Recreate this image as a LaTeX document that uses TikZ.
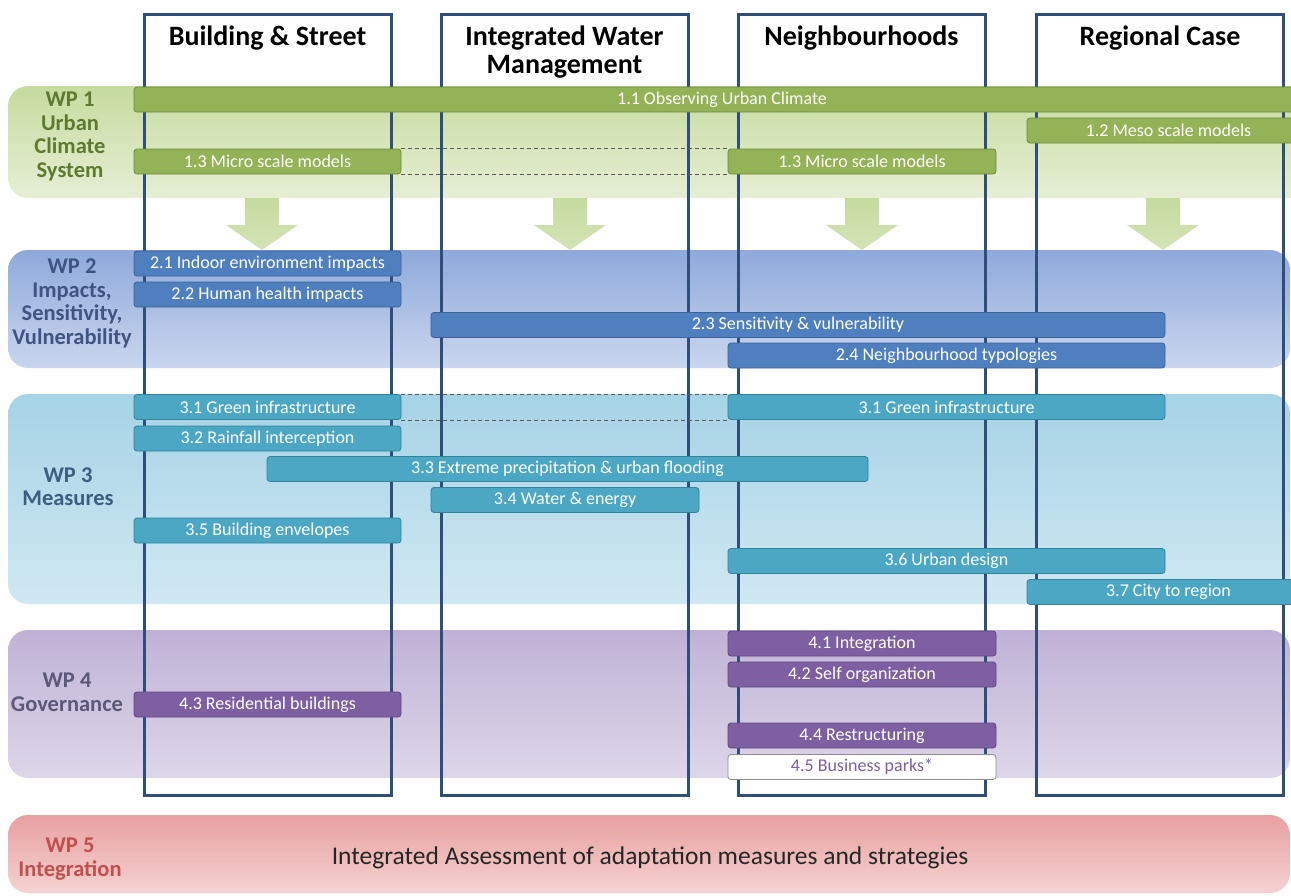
\documentclass[tikz,border=0pt]{standalone}
\usepackage{fontspec}
\setmainfont{Carlito}
\usepackage{tikz}

\definecolor{colline}{HTML}{2F4F7A}
\definecolor{wpagreen}{HTML}{93B356}
\definecolor{wpagreenb}{HTML}{6E8B3D}
\definecolor{wpablue}{HTML}{4F7FBE}
\definecolor{wpablueb}{HTML}{3A6399}
\definecolor{wpacyan}{HTML}{4BA7C3}
\definecolor{wpacyanb}{HTML}{31849B}
\definecolor{wpapurple}{HTML}{7E5FA2}
\definecolor{wpapurpleb}{HTML}{5F4880}
\definecolor{bandgreen}{HTML}{C6DB9E}
\definecolor{bandgreenl}{HTML}{E6EFD5}
\definecolor{bandblue}{HTML}{8EA9DB}
\definecolor{bandbluel}{HTML}{CAD6EE}
\definecolor{bandcyan}{HTML}{A6D3E6}
\definecolor{bandcyanl}{HTML}{D0E8F2}
\definecolor{bandpurple}{HTML}{C0B2D6}
\definecolor{bandpurplel}{HTML}{DDD6E9}
\definecolor{bandred}{HTML}{E8A0A0}
\definecolor{bandredl}{HTML}{F6D2D2}
\definecolor{labgreen}{HTML}{5E7A30}
\definecolor{labblue}{HTML}{3F5480}
\definecolor{labcyan}{HTML}{3A5F80}
\definecolor{labpurple}{HTML}{5B5878}
\definecolor{labred}{HTML}{C0504D}

\begin{document}
\begin{tikzpicture}[x=1pt, y=-1pt,
	colbox/.style = {draw=colline, line width=3pt, minimum width=247, minimum height=781, inner sep=0},
	colhead/.style = {font=\fontsize{28}{28}\selectfont\bfseries, align=center},
	wpband/.style = {rounded corners=20pt},
	wplabel/.style = {font=\fontsize{22.5}{23.5}\selectfont\bfseries, align=center},
	task/.style = {draw, rounded corners=3pt, line width=0.8pt, minimum height=25, inner sep=0, text=white, font=\fontsize{18}{19}\selectfont},
	link/.style = {draw=black!65, line width=0.7pt, dash pattern=on 4pt off 3pt}]
	\useasboundingbox (0,0) rectangle (1291,895);

	% work package bands
	\shade[wpband, top color=bandgreen, bottom color=bandgreenl] (8,86) rectangle (1310,198);
	\shade[wpband, top color=bandblue, bottom color=bandbluel] (8,250) rectangle (1290,368);
	\shade[wpband, top color=bandcyan, bottom color=bandcyanl] (8,394) rectangle (1290,604);
	\shade[wpband, top color=bandpurple, bottom color=bandpurplel] (8,630) rectangle (1290,778);
	\shade[wpband, top color=bandred, bottom color=bandredl] (8,815) rectangle (1290,893);

	% arrows from WP 1 to WP 2
	\shade[top color=bandgreen, bottom color=bandgreen!75!white] (245,198) -- (279,198) -- (279,225) -- (298,225) -- (262,250) -- (226,225) -- (245,225) -- cycle;
	\shade[top color=bandgreen, bottom color=bandgreen!75!white] (553,198) -- (587,198) -- (587,225) -- (606,225) -- (570,250) -- (534,225) -- (553,225) -- cycle;
	\shade[top color=bandgreen, bottom color=bandgreen!75!white] (845,198) -- (879,198) -- (879,225) -- (898,225) -- (862,250) -- (826,225) -- (845,225) -- cycle;
	\shade[top color=bandgreen, bottom color=bandgreen!75!white] (1146,198) -- (1180,198) -- (1180,225) -- (1199,225) -- (1163,250) -- (1127,225) -- (1146,225) -- cycle;

	% columns
	\node[colbox] (bs) at (267.5,404.5) {};
	\node[colbox] (iwm) at (564.5,404.5) {};
	\node[colbox] (nb) at (861.5,404.5) {};
	\node[colbox] (rc) at (1160,404.5) {};
	\node[colhead] (hbs) at (267.5,38) {Building \& Street};
	\node[colhead] (hiwm) at (564.5,52) {Integrated Water\\Management};
	\node[colhead] (hnb) at (861.5,38) {Neighbourhoods};
	\node[colhead] (hrc) at (1160,38) {Regional Case};

	% labels
	\node[wplabel, text=labgreen] (wp1) at (70,136.5) {WP 1\\Urban\\Climate\\System};
	\node[wplabel, text=labblue] (wp2) at (72,303.5) {WP 2\\Impacts,\\Sensitivity,\\Vulnerability};
	\node[wplabel, text=labcyan] (wp3) at (68,486.5) {WP 3\\Measures};
	\node[wplabel, text=labpurple] (wp4) at (67,692.5) {WP 4\\Governance};
	\node[wplabel, text=labred] (wp5) at (70,859) {WP 5\\Integration};
	\node[font=\fontsize{25.5}{28}\selectfont, text=black!85] (ia) at (650,858) {Integrated Assessment of adaptation measures and strategies};

	% WP 1 tasks
	\node[task, fill=wpagreen, draw=wpagreenb, minimum width=1176] (t11) at (722,99.5) {1.1 Observing Urban Climate};
	\node[task, fill=wpagreen, draw=wpagreenb, minimum width=283] (t12) at (1168.5,130.5) {1.2 Meso scale models};
	\node[task, fill=wpagreen, draw=wpagreenb, minimum width=267] (t13a) at (267.5,161.5) {1.3 Micro scale models};
	\node[task, fill=wpagreen, draw=wpagreenb, minimum width=268] (t13b) at (862,161.5) {1.3 Micro scale models};
	\draw[link] (t13a.north east) -- (t13b.north west);
	\draw[link] (t13a.south east) -- (t13b.south west);

	% WP 2 tasks
	\node[task, fill=wpablue, draw=wpablueb, minimum width=267] (t21) at (267.5,263.5) {2.1 Indoor environment impacts};
	\node[task, fill=wpablue, draw=wpablueb, minimum width=267] (t22) at (267.5,294.5) {2.2 Human health impacts};
	\node[task, fill=wpablue, draw=wpablueb, minimum width=734] (t23) at (798,325) {2.3 Sensitivity \& vulnerability};
	\node[task, fill=wpablue, draw=wpablueb, minimum width=437] (t24) at (946.5,355.5) {2.4 Neighbourhood typologies};

	% WP 3 tasks
	\node[task, fill=wpacyan, draw=wpacyanb, minimum width=267] (t31a) at (267.5,407) {3.1 Green infrastructure};
	\node[task, fill=wpacyan, draw=wpacyanb, minimum width=437] (t31b) at (946.5,407) {3.1 Green infrastructure};
	\draw[link] (t31a.north east) -- (t31b.north west);
	\draw[link] (t31a.south east) -- (t31b.south west);
	\node[task, fill=wpacyan, draw=wpacyanb, minimum width=267] (t32) at (267.5,438.5) {3.2 Rainfall interception};
	\node[task, fill=wpacyan, draw=wpacyanb, minimum width=601] (t33) at (567.5,469) {3.3 Extreme precipitation \& urban flooding};
	\node[task, fill=wpacyan, draw=wpacyanb, minimum width=268] (t34) at (565,500) {3.4 Water \& energy};
	\node[task, fill=wpacyan, draw=wpacyanb, minimum width=267] (t35) at (267.5,530.5) {3.5 Building envelopes};
	\node[task, fill=wpacyan, draw=wpacyanb, minimum width=437] (t36) at (946.5,561) {3.6 Urban design};
	\node[task, fill=wpacyan, draw=wpacyanb, minimum width=283] (t37) at (1168.5,592) {3.7 City to region};

	% WP 4 tasks
	\node[task, fill=wpapurple, draw=wpapurpleb, minimum width=268] (t41) at (862,643.5) {4.1 Integration};
	\node[task, fill=wpapurple, draw=wpapurpleb, minimum width=268] (t42) at (862,674.5) {4.2 Self organization};
	\node[task, fill=wpapurple, draw=wpapurpleb, minimum width=267] (t43) at (267.5,704.5) {4.3 Residential buildings};
	\node[task, fill=wpapurple, draw=wpapurpleb, minimum width=268] (t44) at (862,735.5) {4.4 Restructuring};
	\node[task, fill=white, draw=black!45, text=wpapurple, minimum width=268] (t45) at (862,767) {4.5 Business parks*};
\end{tikzpicture}
\end{document}
